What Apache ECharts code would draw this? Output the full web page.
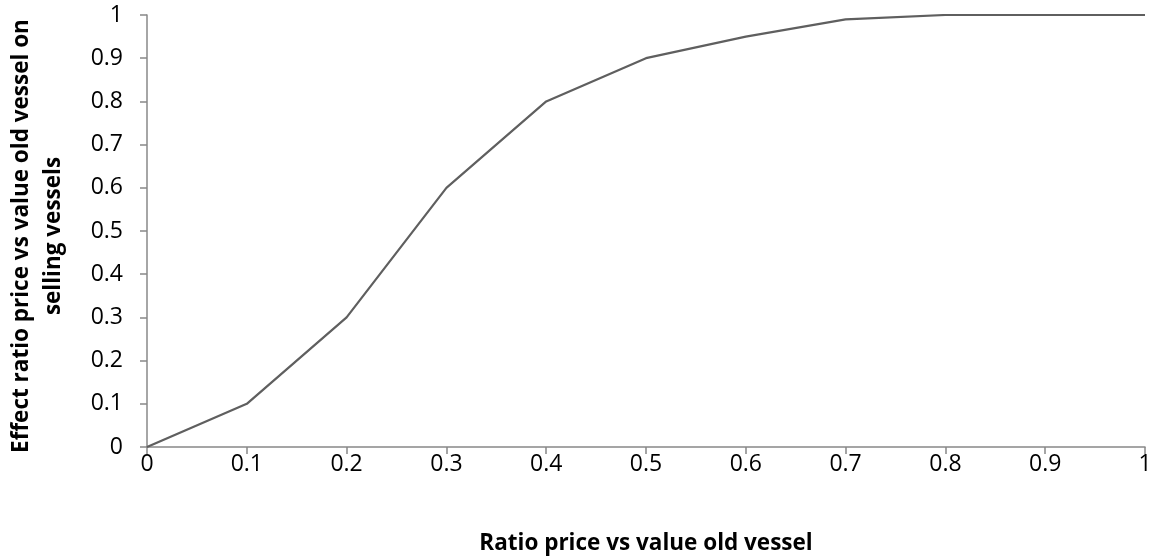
<!DOCTYPE html>
<html>
<head>
<meta charset="utf-8">
<script src="https://cdn.jsdelivr.net/npm/echarts@6/dist/echarts.min.js"></script>
<style>
html,body{margin:0;padding:0;background:#fff;}
#chart{width:1157px;height:558px;}
</style>
</head>
<body>
<div id="chart"></div>
<script>
const xValues = [0, 0.1, 0.2, 0.3, 0.4, 0.5, 0.6, 0.7, 0.8, 0.9, 1];
const yValues = [0, 0.1, 0.3, 0.6, 0.8, 0.9, 0.95, 0.99, 1, 1, 1];
const xTitle = 'Ratio price vs value old vessel';
const yTitle = 'Effect ratio price vs value old vessel on\nselling vessels';

const chart = echarts.init(document.getElementById('chart'), null, {renderer: 'canvas'});
const font = '"Open Sans", sans-serif';
const fmt = v => String(Math.round(v * 10) / 10);
chart.setOption({
  animation: false,
  grid: {left: 147, right: 12, top: 15, bottom: 111, containLabel: false, outerBoundsMode: 'none'},
  xAxis: {
    type: 'value', min: 0, max: 1, interval: 0.1,
    name: xTitle, nameLocation: 'middle', nameGap: 85,
    nameTextStyle: {fontFamily: font, fontWeight: 'bold', fontSize: 22.5, color: '#000'},
    axisLine: {show: true, lineStyle: {color: '#888', width: 1.5}},
    axisTick: {show: true, length: 7, lineStyle: {color: '#888', width: 1.5}},
    axisLabel: {formatter: fmt, fontFamily: font, fontSize: 23, color: '#000', margin: 6},
    splitLine: {show: false}
  },
  yAxis: {
    type: 'value', min: 0, max: 1, interval: 0.1,
    name: yTitle, nameLocation: 'middle', nameGap: 77, nameRotate: 90,
    nameTextStyle: {fontFamily: font, fontWeight: 'bold', fontSize: 22.5, color: '#000', lineHeight: 32, align: 'center', padding: [0, 10, 0, 0]},
    axisLine: {show: true, lineStyle: {color: '#888', width: 1.5}},
    axisTick: {show: true, length: 7, lineStyle: {color: '#888', width: 1.5}},
    axisLabel: {formatter: fmt, fontFamily: font, fontSize: 23, color: '#000', margin: 24},
    splitLine: {show: false}
  },
  series: [{
    type: 'line',
    data: xValues.map((x, i) => [x, yValues[i]]),
    showSymbol: false,
    lineStyle: {color: '#5f5f5f', width: 2.2},
    itemStyle: {color: '#5f5f5f'}
  }]
});
</script>
</body>
</html>
